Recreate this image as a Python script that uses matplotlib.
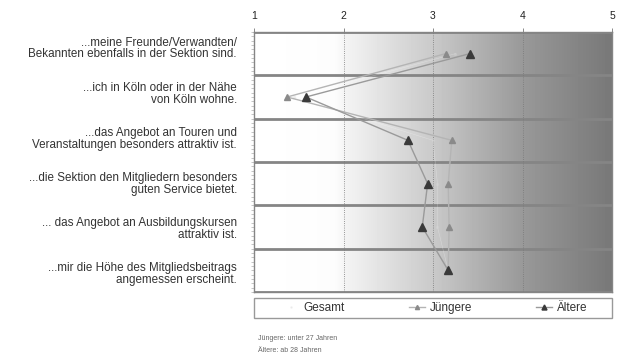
import numpy as np
import matplotlib.pyplot as plt
from matplotlib.patches import Rectangle

plt.rcParams['font.family'] = ['Liberation Sans', 'DejaVu Sans']

# Aussagen (Zeilen von oben nach unten)
labels = [
    "...meine Freunde/Verwandten/\nBekannten ebenfalls in der Sektion sind.",
    "...ich in Köln oder in der Nähe\nvon Köln wohne.",
    "...das Angebot an Touren und\nVeranstaltungen besonders attraktiv ist.",
    "...die Sektion den Mitgliedern besonders\nguten Service bietet.",
    "... das Angebot an Ausbildungskursen\nattraktiv ist.",
    "...mir die Höhe des Mitgliedsbeitrags\nangemessen erscheint.",
]
gesamt = [3.25, 1.45, 3.00, 3.05, 3.05, 3.17]
juengere = [3.14, 1.37, 3.21, 3.17, 3.18, 3.17]
aeltere = [3.41, 1.58, 2.72, 2.94, 2.88, 3.17]
xticks = [1, 2, 3, 4, 5]

rows = np.arange(len(labels))

W, H = 620, 360
fig = plt.figure(figsize=(6.2, 3.6), dpi=100)
ax = fig.add_axes([254 / W, 1 - 292 / H, 358 / W, 260 / H])

# Hintergrund: Verlauf von weiß (links) nach grau (rechts)
xs = np.linspace(1, 5, 720)
shade = np.interp(xs, [1, 1.9, 2.05, 3, 4, 5], [1.0, 0.99, 0.95, 0.79, 0.60, 0.47])
ax.imshow(np.tile(shade, (4, 1)), cmap='gray', vmin=0, vmax=1, aspect='auto',
          extent=[1, 5, 5.5, -0.5], zorder=0, interpolation='nearest')

ax.set_xlim(1, 5)
ax.set_ylim(5.5, -0.5)

# Trennlinien zwischen den Aussagen
for y in np.arange(-0.5, len(labels), 1.0):
    ax.axhline(y, color='#858585', lw=2.0, zorder=1)
for x in [2, 3, 4]:
    ax.axvline(x, color='#777777', lw=0.6, ls=':', zorder=1)

ax.plot(gesamt, rows, color='white', lw=0.4, alpha=0.3, marker='o', ms=1.5,
        mfc='#d8d8d8', mec='#d8d8d8', zorder=2, label='Gesamt')
ax.plot(juengere, rows, color='#b4b4b4', lw=1.0, marker='^', ms=5,
        mfc='#8a8a8a', mec='#8a8a8a', zorder=3, label='Jüngere')
ax.plot(aeltere, rows, color='#9a9a9a', lw=1.0, marker='^', ms=6,
        mfc='#3a3a3a', mec='#3a3a3a', zorder=4, label='Ältere')

ax.xaxis.tick_top()
ax.set_xticks(xticks)
ax.set_xticklabels([str(v) for v in xticks], fontsize=7.5, color='#222222')
ax.tick_params(axis='x', length=3, width=0.6, color='#777777', pad=5)
ax.set_yticks(np.arange(-0.5, 5.6, 0.1), minor=True)
ax.set_yticks([])
ax.tick_params(axis='y', which='minor', length=2, width=0.4, color='#999999')

for s in ax.spines.values():
    s.set_color('#858585')
    s.set_linewidth(1.0)

# Beschriftungen links, rechtsbündig
for i, lab in enumerate(labels):
    fig.text(237 / W, 1 - (48.5 + 45.1 * i) / H, lab, ha='right', va='center',
             fontsize=8.4, color='#333333', linespacing=0.98)

# Legende unter dem Diagramm
fig.add_artist(Rectangle((254 / W, 1 - 318 / H), 358 / W, 20 / H,
                         transform=fig.transFigure, fill=False,
                         edgecolor='#999999', lw=1.0))
fig.legend(loc='center', bbox_to_anchor=(435 / W, 1 - 308 / H),
           ncol=3, fontsize=8.5, frameon=False, handlelength=1.4,
           handletextpad=0.4, columnspacing=5.4, markerscale=0.6,
           labelcolor='#333333')

fig.text(258 / W, 1 - 338 / H, "Jüngere: unter 27 Jahren", fontsize=5,
         color='#666666', va='center')
fig.text(258 / W, 1 - 350 / H, "Ältere: ab 28 Jahren", fontsize=5,
         color='#666666', va='center')

fig.savefig('out.png', dpi=100)
